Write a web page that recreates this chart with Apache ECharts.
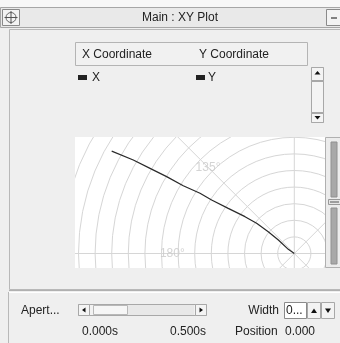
<!DOCTYPE html>
<html><head><meta charset="utf-8">
<script src="https://cdn.jsdelivr.net/npm/echarts@6/dist/echarts.min.js"></script>
<style>html,body{margin:0;padding:0;background:#efefef}#c{width:340px;height:343px}</style>
</head><body><div id="c"></div>
<script>
// Trace values (X / Y coordinate, in ring units)
var xValues = [-11.00, -9.70, -8.69, -7.69, -6.69, -5.68, -4.98, -3.98, -2.97, -2.27, -1.57, -0.96, -0.36, 0];
var yValues = [6.17, 5.63, 5.13, 4.63, 4.08, 3.63, 3.22, 2.72, 2.22, 1.82, 1.31, 0.81, 0.25, 0];
var angleTicks = [0, 45, 90, 135, 180, 225, 270, 315];
var angleLabels = ['0°', '45°', '90°', '135°', '180°', '225°', '270°', '315°'];
var labelRadius = 7.35;
var legendNames = ['X Coordinate', 'Y Coordinate'];
var legendItems = ['X', 'Y'];
var timeLabels = ['0.000s', '0.500s'];

var polarData = xValues.map(function (x, i) {
  var y = yValues[i];
  var r = Math.sqrt(x * x + y * y);
  var a = Math.atan2(y, x) * 180 / Math.PI;
  if (a < 0) a += 360;
  return [r, a];
});
var labelData = angleTicks.map(function (a, i) {
  return { value: [labelRadius, a], name: angleLabels[i] };
});

var FONT = 'Liberation Sans';
var G = '#efefef';
function rect(x, y, w, h, fill, stroke, z) {
  return { type: 'rect', z: z || 60, shape: { x: x, y: y, width: w, height: h },
    style: { fill: fill || 'none', stroke: stroke || null, lineWidth: 1 } };
}
function line(x1, y1, x2, y2, c, z) {
  return { type: 'line', z: z || 61, shape: { x1: x1, y1: y1, x2: x2, y2: y2 }, style: { stroke: c, lineWidth: 1 } };
}
function txt(x, y, s, opts) {
  opts = opts || {};
  return { type: 'text', z: 62, x: x, y: y,
    style: { text: s, fill: opts.color || '#222', font: (opts.size || 12) + 'px "' + FONT + '"',
      textAlign: opts.align || 'left', textVerticalAlign: 'middle' } };
}
function tri(pts, z) {
  return { type: 'polygon', z: z || 62, shape: { points: pts }, style: { fill: '#111' } };
}

var gfx = [
  // masks outside plot area
  rect(0, 0, 340, 137, G, null, 50),
  rect(0, 268, 340, 75, G, null, 50),
  rect(0, 137, 75, 131, G, null, 50),
  rect(325, 137, 15, 131, G, null, 50),
  // top strip and title bar
  rect(0, 0, 340, 7, '#f7f7f7', null, 55),
  rect(0.5, 7.5, 345, 20, '#e9e9e9', '#a6a6a6', 56),
  rect(2.5, 9.5, 17, 16, '#f3f3f3', '#8a8a8a', 57),
  { type: 'circle', z: 58, shape: { cx: 11, cy: 17.5, r: 5 }, style: { fill: 'none', stroke: '#666', lineWidth: 1 } },
  line(4.5, 17.5, 17.5, 17.5, '#555', 58),
  line(11, 11, 11, 24, '#555', 58),
  rect(326.5, 9.5, 16, 16, '#f3f3f3', '#8a8a8a', 57),
  line(331, 18, 337, 18, '#111', 58),
  txt(180, 17.5, 'Main : XY Plot', { align: 'center' }),
  // body frame
  rect(9.5, 29.5, 340, 260, 'none', '#b8b8b8', 56),
  // legend header
  rect(75.5, 42.5, 232, 23, '#f1f1f1', '#b4b4b4', 57),
  txt(82, 54.5, legendNames[0]),
  txt(199, 54.5, legendNames[1]),
  rect(78, 75, 9, 5, '#222', null, 58),
  txt(92, 77.5, legendItems[0]),
  rect(196, 75, 9, 5, '#222', null, 58),
  txt(208, 77.5, legendItems[1]),
  // vertical scrollbar
  rect(311.5, 67.5, 12, 55, '#f0f0f0', '#a8a8a8', 57),
  rect(311.5, 67.5, 12, 13, '#f4f4f4', '#a8a8a8', 58),
  tri([[314.5, 74.5], [320.5, 74.5], [317.5, 71]]),
  rect(311.5, 81.5, 12, 31, '#f4f4f4', '#a8a8a8', 58),
  rect(311.5, 113.5, 12, 9, '#f4f4f4', '#a8a8a8', 58),
  tri([[314.5, 116], [320.5, 116], [317.5, 119.5]]),
  // plot side slider
  rect(325.5, 137.5, 15, 130, '#ececec', '#b0b0b0', 57),
  rect(331, 142, 6, 55, '#a8a8a8', '#909090', 58),
  rect(328.5, 199.5, 12, 5, '#e6e6e6', '#999', 58),
  line(330, 202, 339, 202, '#555', 59),
  rect(331, 208, 6, 56, '#a8a8a8', '#909090', 58),
  // bottom panel
  line(9, 290.5, 340, 290.5, '#b0b0b0', 57),
  line(9, 292.5, 340, 292.5, '#ffffff', 57),
  line(8.5, 292, 8.5, 343, '#b8b8b8', 57),
  txt(21, 310.5, 'Apert...'),
  rect(78.5, 304.5, 128, 11, '#f2f2f2', '#a8a8a8', 57),
  rect(78.5, 304.5, 11, 11, '#f4f4f4', '#a8a8a8', 58),
  tri([[85.5, 307.5], [85.5, 312.5], [82, 310]]),
  rect(93.5, 305.5, 34, 9, '#f6f6f6', '#b8b8b8', 58),
  rect(128, 305, 66, 10, '#e8e8e8', null, 58),
  rect(195.5, 304.5, 11, 11, '#f4f4f4', '#a8a8a8', 58),
  tri([[199.5, 307.5], [199.5, 312.5], [203, 310]]),
  txt(279, 310.5, 'Width', { align: 'right' }),
  rect(284.5, 302.5, 22, 16, '#ffffff', '#8a8a8a', 57),
  txt(286, 311, '0...'),
  rect(307.5, 302.5, 13, 16, '#f3f3f3', '#a8a8a8', 57),
  tri([[311, 313], [317, 313], [314, 308.5]]),
  rect(321.5, 302.5, 13, 16, '#f3f3f3', '#a8a8a8', 57),
  tri([[325, 308.5], [331, 308.5], [328, 313]]),
  txt(82, 332, timeLabels[0]),
  txt(170, 332, timeLabels[1]),
  txt(235, 332, 'Position'),
  txt(285, 332, '0.000')
];

var chart = echarts.init(document.getElementById('c'));
chart.setOption({
  backgroundColor: '#ffffff',
  animation: false,
  polar: { center: [294.3, 253.5], radius: 14 * 16.6 },
  radiusAxis: {
    type: 'value', min: 0, max: 14, interval: 1,
    axisLine: { show: false }, axisTick: { show: false }, axisLabel: { show: false },
    splitLine: { show: true, lineStyle: { color: '#d6d6d6', width: 1 } }
  },
  angleAxis: {
    type: 'value', min: 0, max: 360, interval: 45, startAngle: 0, clockwise: false,
    axisLine: { show: false }, axisTick: { show: false }, axisLabel: { show: false },
    splitLine: { show: true, lineStyle: { color: '#d6d6d6', width: 1 } }
  },
  series: [
    { type: 'scatter', coordinateSystem: 'polar', data: labelData, symbolSize: 0, z: 1,
      label: { show: true, position: 'inside', formatter: '{b}', color: '#c9c9c9', fontSize: 12, fontFamily: FONT } },
    { type: 'line', coordinateSystem: 'polar', data: polarData, showSymbol: false, symbol: 'none',
      lineStyle: { color: '#2a2a2a', width: 1.2 }, z: 3 }
  ],
  graphic: gfx
});
</script></body></html>
